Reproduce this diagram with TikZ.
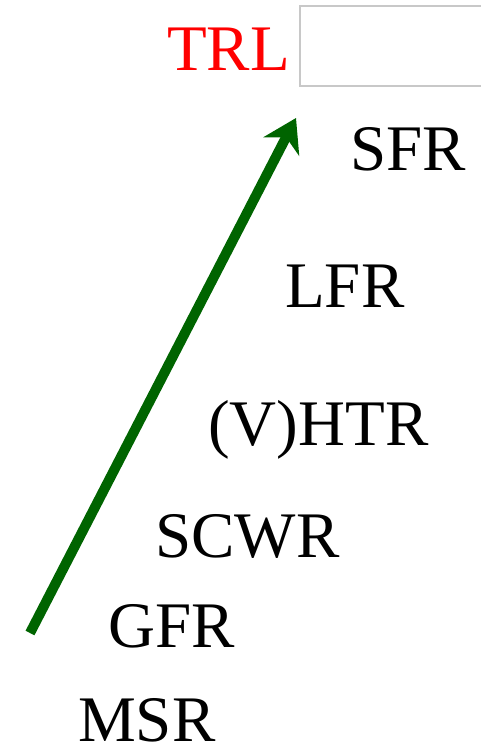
\documentclass[tikz,border=0pt]{standalone}
\usepackage{fontspec}
\setmainfont{Liberation Serif}
\usetikzlibrary{positioning}
\usetikzlibrary{arrows.meta}
\tikzset{>=stealth}
\definecolor{arrowgreen}{RGB}{0,100,0}
\definecolor{boxgray}{RGB}{200,200,200}
\tikzset{
	reactor/.style={anchor=base west, inner sep=0pt, font=\fontsize{65}{70}\selectfont},
	trllabel/.style={reactor, text=red},
}

\begin{document}
\begin{tikzpicture}[x=1pt,y=-1pt]
				\useasboundingbox (0,0) rectangle (481,754);
				% empty field next to the label
				\draw[boxgray, line width=1.5pt] (300,6) rectangle (490,86);
				\node[trllabel] (trl) at (167,71) {TRL};
				% reactor types
				\node[reactor] (sfr) at (350,171) {SFR};
				\node[reactor] (lfr) at (285,307) {LFR};
				\node[reactor] (htr) at (208,445) {(V)HTR};
				\node[reactor] (scwr) at (155,557) {SCWR};
				\node[reactor] (gfr) at (108,647) {GFR};
				\node[reactor] (msr) at (78,741) {MSR};
				% trend
				\coordinate (low) at (30,633);
				\coordinate (high) at (296,118);
				\draw[->, arrowgreen, line width=10pt, >={Stealth[length=32pt,width=40pt]}] (low) -- (high);
				\end{tikzpicture}
\end{document}
